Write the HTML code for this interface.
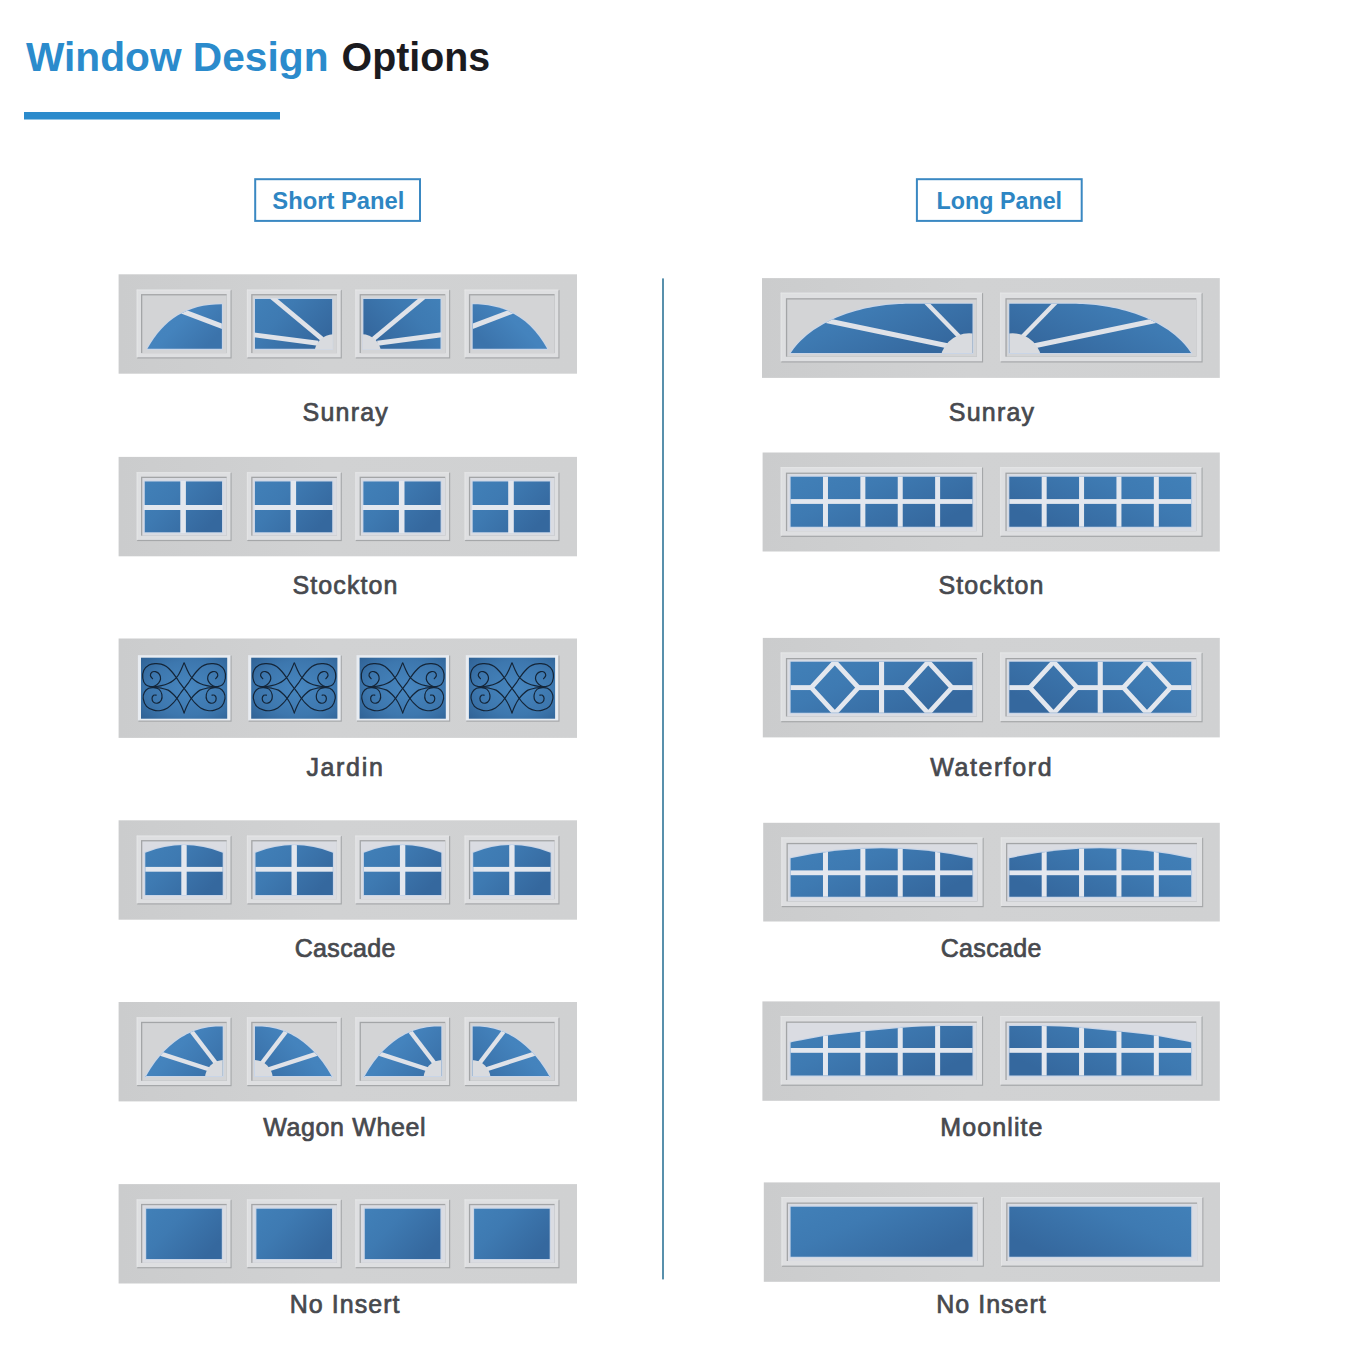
<!DOCTYPE html>
<html><head><meta charset="utf-8"><title>Window Design Options</title>
<style>
html,body{margin:0;padding:0;background:#fff;}
body{width:1361px;height:1360px;position:relative;overflow:hidden;}
svg{position:absolute;left:0;top:0;font-family:"Liberation Sans",sans-serif;}
</style></head>
<body>
<svg width="1361" height="1360" viewBox="0 0 1361 1360">
<defs>
<clipPath id="c1"><path d="M147.4,348.8 C163.7,319.6 186.7,304.3 221.9,304.3 L221.9,348.8 Z"/></clipPath>
<clipPath id="c2"><rect x="254.2" y="298.2" width="78.7" height="51.4"/></clipPath>
<clipPath id="c3"><rect x="254.2" y="298.2" width="78.7" height="51.4"/></clipPath>
<clipPath id="c4"><path d="M147.4,348.8 C163.7,319.6 186.7,304.3 221.9,304.3 L221.9,348.8 Z"/></clipPath>
<clipPath id="c5"><path d="M145.3,895 L145.3,852.7 Q184,837.5 222.7,852.7 L222.7,895 Z"/></clipPath>
<clipPath id="c6"><path d="M255.5,895 L255.5,852.7 Q294.2,837.5 332.9,852.7 L332.9,895 Z"/></clipPath>
<clipPath id="c7"><path d="M363.9,895 L363.9,852.7 Q402.6,837.5 441.3,852.7 L441.3,895 Z"/></clipPath>
<clipPath id="c8"><path d="M473.2,895 L473.2,852.7 Q511.9,837.5 550.6,852.7 L550.6,895 Z"/></clipPath>
<clipPath id="c9"><path d="M145.7,1075.9 L145.7,1077.09 L148.11,1072.81 L150.53,1068.87 L152.94,1065.24 L155.35,1061.87 L157.77,1058.74 L160.18,1055.83 L162.59,1053.12 L165.01,1050.59 L167.42,1048.23 L169.83,1046.02 L172.25,1043.97 L174.66,1042.05 L177.07,1040.27 L179.49,1038.61 L181.9,1037.08 L184.31,1035.66 L186.73,1034.36 L189.14,1033.16 L191.55,1032.08 L193.97,1031.09 L196.38,1030.2 L198.79,1029.42 L201.21,1028.73 L203.62,1028.13 L206.03,1027.63 L208.45,1027.22 L210.86,1026.91 L213.27,1026.68 L215.69,1026.55 L218.1,1026.5 L222.7,1026.5 L222.7,1075.9 Z"/></clipPath>
<clipPath id="c10"><path d="M145.7,1075.9 L145.7,1077.09 L148.11,1072.81 L150.53,1068.87 L152.94,1065.24 L155.35,1061.87 L157.77,1058.74 L160.18,1055.83 L162.59,1053.12 L165.01,1050.59 L167.42,1048.23 L169.83,1046.02 L172.25,1043.97 L174.66,1042.05 L177.07,1040.27 L179.49,1038.61 L181.9,1037.08 L184.31,1035.66 L186.73,1034.36 L189.14,1033.16 L191.55,1032.08 L193.97,1031.09 L196.38,1030.2 L198.79,1029.42 L201.21,1028.73 L203.62,1028.13 L206.03,1027.63 L208.45,1027.22 L210.86,1026.91 L213.27,1026.68 L215.69,1026.55 L218.1,1026.5 L222.7,1026.5 L222.7,1075.9 Z"/></clipPath>
<clipPath id="c11"><path d="M145.7,1075.9 L145.7,1077.09 L148.11,1072.81 L150.53,1068.87 L152.94,1065.24 L155.35,1061.87 L157.77,1058.74 L160.18,1055.83 L162.59,1053.12 L165.01,1050.59 L167.42,1048.23 L169.83,1046.02 L172.25,1043.97 L174.66,1042.05 L177.07,1040.27 L179.49,1038.61 L181.9,1037.08 L184.31,1035.66 L186.73,1034.36 L189.14,1033.16 L191.55,1032.08 L193.97,1031.09 L196.38,1030.2 L198.79,1029.42 L201.21,1028.73 L203.62,1028.13 L206.03,1027.63 L208.45,1027.22 L210.86,1026.91 L213.27,1026.68 L215.69,1026.55 L218.1,1026.5 L222.7,1026.5 L222.7,1075.9 Z"/></clipPath>
<clipPath id="c12"><path d="M145.7,1075.9 L145.7,1077.09 L148.11,1072.81 L150.53,1068.87 L152.94,1065.24 L155.35,1061.87 L157.77,1058.74 L160.18,1055.83 L162.59,1053.12 L165.01,1050.59 L167.42,1048.23 L169.83,1046.02 L172.25,1043.97 L174.66,1042.05 L177.07,1040.27 L179.49,1038.61 L181.9,1037.08 L184.31,1035.66 L186.73,1034.36 L189.14,1033.16 L191.55,1032.08 L193.97,1031.09 L196.38,1030.2 L198.79,1029.42 L201.21,1028.73 L203.62,1028.13 L206.03,1027.63 L208.45,1027.22 L210.86,1026.91 L213.27,1026.68 L215.69,1026.55 L218.1,1026.5 L222.7,1026.5 L222.7,1075.9 Z"/></clipPath>
<clipPath id="c13"><path d="M790.6,353 L790.6,353.29 L793.89,348.56 L797.18,344.55 L800.47,341.04 L803.76,337.91 L807.04,335.08 L810.33,332.49 L813.62,330.11 L816.91,327.92 L820.2,325.88 L823.49,323.99 L826.78,322.22 L830.07,320.57 L833.36,319.03 L836.64,317.6 L839.93,316.25 L843.22,315 L846.51,313.82 L849.8,312.73 L853.09,311.71 L856.38,310.76 L859.67,309.88 L862.96,309.07 L866.24,308.32 L869.53,307.63 L872.82,307.01 L876.11,306.44 L879.4,305.93 L882.69,305.48 L885.98,305.08 L889.27,304.74 L892.56,304.45 L895.84,304.22 L899.13,304.03 L902.42,303.9 L905.71,303.83 L909,303.8 L972.5,303.8 L972.5,353 Z"/></clipPath>
<clipPath id="c14"><path d="M790.6,353 L790.6,353.29 L793.89,348.56 L797.18,344.55 L800.47,341.04 L803.76,337.91 L807.04,335.08 L810.33,332.49 L813.62,330.11 L816.91,327.92 L820.2,325.88 L823.49,323.99 L826.78,322.22 L830.07,320.57 L833.36,319.03 L836.64,317.6 L839.93,316.25 L843.22,315 L846.51,313.82 L849.8,312.73 L853.09,311.71 L856.38,310.76 L859.67,309.88 L862.96,309.07 L866.24,308.32 L869.53,307.63 L872.82,307.01 L876.11,306.44 L879.4,305.93 L882.69,305.48 L885.98,305.08 L889.27,304.74 L892.56,304.45 L895.84,304.22 L899.13,304.03 L902.42,303.9 L905.71,303.83 L909,303.8 L972.5,303.8 L972.5,353 Z"/></clipPath>
<clipPath id="c15"><path d="M790.6,476.7 L972.5,476.7 L972.5,526.7 L790.6,526.7 Z"/></clipPath>
<clipPath id="c16"><path d="M790.6,476.7 L972.5,476.7 L972.5,526.7 L790.6,526.7 Z"/></clipPath>
<clipPath id="c17"><path d="M790.6,661.8 L972.5,661.8 L972.5,712.8 L790.6,712.8 Z"/></clipPath>
<clipPath id="c18"><path d="M790.6,661.8 L972.5,661.8 L972.5,712.8 L790.6,712.8 Z"/></clipPath>
<clipPath id="c19"><path d="M790.6,896.7 L790.6,858.2 Q881.55,838.2 972.5,858.2 L972.5,896.7 Z"/></clipPath>
<clipPath id="c20"><path d="M790.6,896.7 L790.6,858.2 Q881.55,838.2 972.5,858.2 L972.5,896.7 Z"/></clipPath>
<clipPath id="c21"><path d="M790.6,1075.6 L790.6,1042.4 C796.77,1041.27 815.18,1037.45 827.6,1035.6 C840.02,1033.75 852.6,1032.62 865.1,1031.3 C877.6,1029.98 890.18,1028.58 902.6,1027.7 C915.02,1026.82 927.95,1026.28 939.6,1026 C951.25,1025.72 967.02,1026 972.5,1026 L972.5,1075.6 Z"/></clipPath>
<clipPath id="c22"><path d="M790.6,1075.6 L790.6,1042.4 C796.77,1041.27 815.18,1037.45 827.6,1035.6 C840.02,1033.75 852.6,1032.62 865.1,1031.3 C877.6,1029.98 890.18,1028.58 902.6,1027.7 C915.02,1026.82 927.95,1026.28 939.6,1026 C951.25,1025.72 967.02,1026 972.5,1026 L972.5,1075.6 Z"/></clipPath>
<clipPath id="c23"><path d="M790.6,1206.7 L972.5,1206.7 L972.5,1256.7 L790.6,1256.7 Z"/></clipPath>
<clipPath id="c24"><path d="M790.6,1206.7 L972.5,1206.7 L972.5,1256.7 L790.6,1256.7 Z"/></clipPath>
<linearGradient id="pg" x1="0" y1="0" x2="1" y2="0">
 <stop offset="0" stop-color="#cbcccd"/><stop offset="0.45" stop-color="#d1d2d3"/><stop offset="1" stop-color="#d0d1d2"/>
</linearGradient>
<linearGradient id="gl" x1="0" y1="0" x2="1" y2="0.6">
 <stop offset="0" stop-color="#4180b8"/><stop offset="0.4" stop-color="#3e7ab2"/><stop offset="1" stop-color="#35689e"/>
</linearGradient>
<linearGradient id="gl2" x1="0" y1="0" x2="1" y2="0.6">
 <stop offset="0" stop-color="#4686c0"/><stop offset="0.5" stop-color="#4483bd"/><stop offset="1" stop-color="#3b73ab"/>
</linearGradient>
<radialGradient id="glj" cx="0.55" cy="0.5" r="0.75">
 <stop offset="0" stop-color="#4786bf"/><stop offset="0.6" stop-color="#3d77ae"/><stop offset="1" stop-color="#2f6194"/>
</radialGradient>
</defs>
<rect x="118.6" y="274.3" width="458.4" height="99.4" fill="url(#pg)"/>
<rect x="137.2" y="290.1" width="94.4" height="68.4" fill="#a5a7a9"/>
<rect x="136.7" y="289.6" width="93.8" height="67.7" fill="#dedfe1"/>
<rect x="136.7" y="289.6" width="93.8" height="1" fill="#e4e5e6"/>
<rect x="136.7" y="289.6" width="1" height="67.7" fill="#e4e5e6"/>
<rect x="141" y="294.1" width="85.7" height="59" fill="#a3a5a7"/>
<rect x="142.3" y="295.4" width="84.4" height="57.7" fill="#d3d4d6"/>
<g transform="translate(0,0)">
<path d="M147.4,348.8 C163.7,319.6 186.7,304.3 221.9,304.3 L221.9,348.8 Z" fill="#c9d5e7" stroke="#c9d5e7" stroke-width="2.2" stroke-linejoin="round"/>
<path d="M147.4,348.8 C163.7,319.6 186.7,304.3 221.9,304.3 L221.9,348.8 Z" fill="url(#gl2)"/>
<g clip-path="url(#c1)">
<line x1="181.3" y1="310.8" x2="223.4" y2="326.8" stroke="#dfe2e8" stroke-width="5.0"/>
</g>
</g>
<rect x="247.4" y="290.1" width="94.4" height="68.4" fill="#a5a7a9"/>
<rect x="246.9" y="289.6" width="93.8" height="67.7" fill="#dedfe1"/>
<rect x="246.9" y="289.6" width="93.8" height="1" fill="#e4e5e6"/>
<rect x="246.9" y="289.6" width="1" height="67.7" fill="#e4e5e6"/>
<rect x="251.2" y="294.1" width="85.7" height="59" fill="#a3a5a7"/>
<rect x="252.5" y="295.4" width="84.4" height="57.7" fill="#d3d4d6"/>
<g transform="translate(0,0)">
<path d="M255,299 L332.1,299 L332.1,348.8 L255,348.8 Z" fill="#c9d5e7" stroke="#c9d5e7" stroke-width="2.2" stroke-linejoin="round"/>
<path d="M255,299 L332.1,299 L332.1,348.8 L255,348.8 Z" fill="url(#gl)"/>
<g clip-path="url(#c2)">
<line x1="271.6" y1="297" x2="322.1" y2="339" stroke="#dfe2e8" stroke-width="4.8"/>
<line x1="253.5" y1="334.8" x2="318.1" y2="343.3" stroke="#dfe2e8" stroke-width="4.9"/>
<circle cx="333.5" cy="353.2" r="19" fill="#d9dbdf"/>
</g>
</g>
<rect x="355.8" y="290.1" width="94.4" height="68.4" fill="#a5a7a9"/>
<rect x="355.3" y="289.6" width="93.8" height="67.7" fill="#dedfe1"/>
<rect x="355.3" y="289.6" width="93.8" height="1" fill="#e4e5e6"/>
<rect x="355.3" y="289.6" width="1" height="67.7" fill="#e4e5e6"/>
<rect x="359.6" y="294.1" width="85.7" height="59" fill="#a3a5a7"/>
<rect x="360.9" y="295.4" width="84.4" height="57.7" fill="#d3d4d6"/>
<g transform="matrix(-1,0,0,1,695.5,0)">
<path d="M255,299 L332.1,299 L332.1,348.8 L255,348.8 Z" fill="#c9d5e7" stroke="#c9d5e7" stroke-width="2.2" stroke-linejoin="round"/>
<path d="M255,299 L332.1,299 L332.1,348.8 L255,348.8 Z" fill="url(#gl)"/>
<g clip-path="url(#c3)">
<line x1="271.6" y1="297" x2="322.1" y2="339" stroke="#dfe2e8" stroke-width="4.8"/>
<line x1="253.5" y1="334.8" x2="318.1" y2="343.3" stroke="#dfe2e8" stroke-width="4.9"/>
<circle cx="333.5" cy="353.2" r="19" fill="#d9dbdf"/>
</g>
</g>
<rect x="465.1" y="290.1" width="94.4" height="68.4" fill="#a5a7a9"/>
<rect x="464.6" y="289.6" width="93.8" height="67.7" fill="#dedfe1"/>
<rect x="464.6" y="289.6" width="93.8" height="1" fill="#e4e5e6"/>
<rect x="464.6" y="289.6" width="1" height="67.7" fill="#e4e5e6"/>
<rect x="468.9" y="294.1" width="85.7" height="59" fill="#a3a5a7"/>
<rect x="470.2" y="295.4" width="84.4" height="57.7" fill="#d3d4d6"/>
<g transform="matrix(-1,0,0,1,694.6,0)">
<path d="M147.4,348.8 C163.7,319.6 186.7,304.3 221.9,304.3 L221.9,348.8 Z" fill="#c9d5e7" stroke="#c9d5e7" stroke-width="2.2" stroke-linejoin="round"/>
<path d="M147.4,348.8 C163.7,319.6 186.7,304.3 221.9,304.3 L221.9,348.8 Z" fill="url(#gl2)"/>
<g clip-path="url(#c4)">
<line x1="181.3" y1="310.8" x2="223.4" y2="326.8" stroke="#dfe2e8" stroke-width="5.0"/>
</g>
</g>
<rect x="118.6" y="456.9" width="458.4" height="99.4" fill="url(#pg)"/>
<rect x="137.2" y="472.7" width="94.4" height="68.4" fill="#a5a7a9"/>
<rect x="136.7" y="472.2" width="93.8" height="67.7" fill="#dedfe1"/>
<rect x="136.7" y="472.2" width="93.8" height="1" fill="#e4e5e6"/>
<rect x="136.7" y="472.2" width="1" height="67.7" fill="#e4e5e6"/>
<rect x="141" y="476.7" width="85.7" height="59" fill="#a3a5a7"/>
<rect x="142.3" y="478" width="84.4" height="57.7" fill="#dadce2"/>
<path d="M144.8,481.6 L222,481.6 L222,532.2 L144.8,532.2 Z" fill="#c9d5e7" stroke="#c9d5e7" stroke-width="2.2" stroke-linejoin="round"/>
<path d="M144.8,481.6 L222,481.6 L222,532.2 L144.8,532.2 Z" fill="url(#gl)"/>
<rect x="180.3" y="480.8" width="5.6" height="52.2" fill="#e3e7ee"/>
<rect x="144" y="505" width="78.8" height="5" fill="#e3e7ee"/>
<rect x="247.4" y="472.7" width="94.4" height="68.4" fill="#a5a7a9"/>
<rect x="246.9" y="472.2" width="93.8" height="67.7" fill="#dedfe1"/>
<rect x="246.9" y="472.2" width="93.8" height="1" fill="#e4e5e6"/>
<rect x="246.9" y="472.2" width="1" height="67.7" fill="#e4e5e6"/>
<rect x="251.2" y="476.7" width="85.7" height="59" fill="#a3a5a7"/>
<rect x="252.5" y="478" width="84.4" height="57.7" fill="#dadce2"/>
<path d="M255,481.6 L332.2,481.6 L332.2,532.2 L255,532.2 Z" fill="#c9d5e7" stroke="#c9d5e7" stroke-width="2.2" stroke-linejoin="round"/>
<path d="M255,481.6 L332.2,481.6 L332.2,532.2 L255,532.2 Z" fill="url(#gl)"/>
<rect x="290.5" y="480.8" width="5.6" height="52.2" fill="#e3e7ee"/>
<rect x="254.2" y="505" width="78.8" height="5" fill="#e3e7ee"/>
<rect x="355.8" y="472.7" width="94.4" height="68.4" fill="#a5a7a9"/>
<rect x="355.3" y="472.2" width="93.8" height="67.7" fill="#dedfe1"/>
<rect x="355.3" y="472.2" width="93.8" height="1" fill="#e4e5e6"/>
<rect x="355.3" y="472.2" width="1" height="67.7" fill="#e4e5e6"/>
<rect x="359.6" y="476.7" width="85.7" height="59" fill="#a3a5a7"/>
<rect x="360.9" y="478" width="84.4" height="57.7" fill="#dadce2"/>
<path d="M363.4,481.6 L440.6,481.6 L440.6,532.2 L363.4,532.2 Z" fill="#c9d5e7" stroke="#c9d5e7" stroke-width="2.2" stroke-linejoin="round"/>
<path d="M363.4,481.6 L440.6,481.6 L440.6,532.2 L363.4,532.2 Z" fill="url(#gl)"/>
<rect x="398.9" y="480.8" width="5.6" height="52.2" fill="#e3e7ee"/>
<rect x="362.6" y="505" width="78.8" height="5" fill="#e3e7ee"/>
<rect x="465.1" y="472.7" width="94.4" height="68.4" fill="#a5a7a9"/>
<rect x="464.6" y="472.2" width="93.8" height="67.7" fill="#dedfe1"/>
<rect x="464.6" y="472.2" width="93.8" height="1" fill="#e4e5e6"/>
<rect x="464.6" y="472.2" width="1" height="67.7" fill="#e4e5e6"/>
<rect x="468.9" y="476.7" width="85.7" height="59" fill="#a3a5a7"/>
<rect x="470.2" y="478" width="84.4" height="57.7" fill="#dadce2"/>
<path d="M472.7,481.6 L549.9,481.6 L549.9,532.2 L472.7,532.2 Z" fill="#c9d5e7" stroke="#c9d5e7" stroke-width="2.2" stroke-linejoin="round"/>
<path d="M472.7,481.6 L549.9,481.6 L549.9,532.2 L472.7,532.2 Z" fill="url(#gl)"/>
<rect x="508.2" y="480.8" width="5.6" height="52.2" fill="#e3e7ee"/>
<rect x="471.9" y="505" width="78.8" height="5" fill="#e3e7ee"/>
<rect x="118.6" y="638.5" width="458.4" height="99.4" fill="url(#pg)"/>
<rect x="138.4" y="655.6" width="93.2" height="66.1" fill="#a5a7a9"/>
<rect x="137.9" y="655.1" width="92.6" height="65.4" fill="#e8ecf1"/>
<rect x="141" y="657.7" width="86.2" height="61" fill="url(#glj)"/>
<g transform="translate(141,657.7) scale(1.0023,1.0000)" fill="none" stroke="#142538" stroke-width="1.2" stroke-linecap="round">
<path d="M11.5,21 C11.15,20.48 9.52,18.98 9.4,17.9 C9.28,16.82 9.97,15.15 10.8,14.5 C11.63,13.85 13.13,13.65 14.4,14 C15.67,14.35 17.55,15.4 18.4,16.6 C19.25,17.8 19.62,19.77 19.5,21.2 C19.38,22.63 18.58,24.07 17.7,25.2 C16.82,26.33 15.57,27.38 14.2,28 C12.83,28.62 11.1,29.07 9.5,28.9 C7.9,28.73 5.88,28.4 4.6,27 C3.32,25.6 2.1,22.92 1.8,20.5 C1.5,18.08 1.77,14.68 2.8,12.5 C3.83,10.32 6.13,8.5 8,7.4 C9.87,6.3 12,6.07 14,5.9 C16,5.73 18.1,5.9 20,6.4 C21.9,6.9 23.63,7.67 25.4,8.9 C27.17,10.13 29,12.03 30.6,13.8 C32.2,15.57 33.62,17.57 35,19.5 C36.38,21.43 37.57,23.52 38.9,25.4 C40.23,27.28 41.68,29.07 43,30.8 C44.32,32.53 45.6,34.17 46.8,35.8 C48,37.43 49.03,39.03 50.2,40.6 C51.37,42.17 52.25,43.6 53.8,45.2 C55.35,46.8 57.42,48.93 59.5,50.2 C61.58,51.47 64,52.42 66.3,52.8 C68.6,53.18 70.93,53.2 73.3,52.5 C75.67,51.8 78.75,50.52 80.5,48.6 C82.25,46.68 83.45,43.33 83.8,41 C84.15,38.67 83.5,36.33 82.6,34.6 C81.7,32.87 79.92,31.38 78.4,30.6 C76.88,29.82 75.2,29.77 73.5,29.9 C71.8,30.03 69.58,30.28 68.2,31.4 C66.82,32.52 65.6,34.73 65.2,36.6 C64.8,38.47 65.1,41.13 65.8,42.6 C66.5,44.07 68.1,45.1 69.4,45.4 C70.7,45.7 72.67,45.2 73.6,44.4 C74.53,43.6 75.03,41.73 75,40.6 C74.97,39.47 74.1,38.13 73.4,37.6 C72.7,37.07 71.23,37.43 70.8,37.4 M42.8,5.4 C42.37,6.42 41.23,9.35 40.2,11.5 C39.17,13.65 37.93,16.42 36.6,18.3 C35.27,20.18 33.78,21.55 32.2,22.8 C30.62,24.05 29.08,24.93 27.1,25.8 C25.12,26.67 22.73,27.42 20.3,28 C17.87,28.58 13.8,29.08 12.5,29.3 M43,55.2 C42.55,54.08 41.37,50.73 40.3,48.5 C39.23,46.27 37.95,43.78 36.6,41.8 C35.25,39.82 33.78,38.17 32.2,36.6 C30.62,35.03 29.08,33.42 27.1,32.4 C25.12,31.38 22.73,30.95 20.3,30.5 C17.87,30.05 13.8,29.83 12.5,29.7"/>
<path d="M11.5,21 C11.15,20.48 9.52,18.98 9.4,17.9 C9.28,16.82 9.97,15.15 10.8,14.5 C11.63,13.85 13.13,13.65 14.4,14 C15.67,14.35 17.55,15.4 18.4,16.6 C19.25,17.8 19.62,19.77 19.5,21.2 C19.38,22.63 18.58,24.07 17.7,25.2 C16.82,26.33 15.57,27.38 14.2,28 C12.83,28.62 11.1,29.07 9.5,28.9 C7.9,28.73 5.88,28.4 4.6,27 C3.32,25.6 2.1,22.92 1.8,20.5 C1.5,18.08 1.77,14.68 2.8,12.5 C3.83,10.32 6.13,8.5 8,7.4 C9.87,6.3 12,6.07 14,5.9 C16,5.73 18.1,5.9 20,6.4 C21.9,6.9 23.63,7.67 25.4,8.9 C27.17,10.13 29,12.03 30.6,13.8 C32.2,15.57 33.62,17.57 35,19.5 C36.38,21.43 37.57,23.52 38.9,25.4 C40.23,27.28 41.68,29.07 43,30.8 C44.32,32.53 45.6,34.17 46.8,35.8 C48,37.43 49.03,39.03 50.2,40.6 C51.37,42.17 52.25,43.6 53.8,45.2 C55.35,46.8 57.42,48.93 59.5,50.2 C61.58,51.47 64,52.42 66.3,52.8 C68.6,53.18 70.93,53.2 73.3,52.5 C75.67,51.8 78.75,50.52 80.5,48.6 C82.25,46.68 83.45,43.33 83.8,41 C84.15,38.67 83.5,36.33 82.6,34.6 C81.7,32.87 79.92,31.38 78.4,30.6 C76.88,29.82 75.2,29.77 73.5,29.9 C71.8,30.03 69.58,30.28 68.2,31.4 C66.82,32.52 65.6,34.73 65.2,36.6 C64.8,38.47 65.1,41.13 65.8,42.6 C66.5,44.07 68.1,45.1 69.4,45.4 C70.7,45.7 72.67,45.2 73.6,44.4 C74.53,43.6 75.03,41.73 75,40.6 C74.97,39.47 74.1,38.13 73.4,37.6 C72.7,37.07 71.23,37.43 70.8,37.4 M42.8,5.4 C42.37,6.42 41.23,9.35 40.2,11.5 C39.17,13.65 37.93,16.42 36.6,18.3 C35.27,20.18 33.78,21.55 32.2,22.8 C30.62,24.05 29.08,24.93 27.1,25.8 C25.12,26.67 22.73,27.42 20.3,28 C17.87,28.58 13.8,29.08 12.5,29.3 M43,55.2 C42.55,54.08 41.37,50.73 40.3,48.5 C39.23,46.27 37.95,43.78 36.6,41.8 C35.25,39.82 33.78,38.17 32.2,36.6 C30.62,35.03 29.08,33.42 27.1,32.4 C25.12,31.38 22.73,30.95 20.3,30.5 C17.87,30.05 13.8,29.83 12.5,29.7" transform="matrix(-1,0,0,1,86,0)"/>
</g>
<rect x="248.6" y="655.6" width="93.2" height="66.1" fill="#a5a7a9"/>
<rect x="248.1" y="655.1" width="92.6" height="65.4" fill="#e8ecf1"/>
<rect x="251.2" y="657.7" width="86.2" height="61" fill="url(#glj)"/>
<g transform="translate(251.2,657.7) scale(1.0023,1.0000)" fill="none" stroke="#142538" stroke-width="1.2" stroke-linecap="round">
<path d="M11.5,21 C11.15,20.48 9.52,18.98 9.4,17.9 C9.28,16.82 9.97,15.15 10.8,14.5 C11.63,13.85 13.13,13.65 14.4,14 C15.67,14.35 17.55,15.4 18.4,16.6 C19.25,17.8 19.62,19.77 19.5,21.2 C19.38,22.63 18.58,24.07 17.7,25.2 C16.82,26.33 15.57,27.38 14.2,28 C12.83,28.62 11.1,29.07 9.5,28.9 C7.9,28.73 5.88,28.4 4.6,27 C3.32,25.6 2.1,22.92 1.8,20.5 C1.5,18.08 1.77,14.68 2.8,12.5 C3.83,10.32 6.13,8.5 8,7.4 C9.87,6.3 12,6.07 14,5.9 C16,5.73 18.1,5.9 20,6.4 C21.9,6.9 23.63,7.67 25.4,8.9 C27.17,10.13 29,12.03 30.6,13.8 C32.2,15.57 33.62,17.57 35,19.5 C36.38,21.43 37.57,23.52 38.9,25.4 C40.23,27.28 41.68,29.07 43,30.8 C44.32,32.53 45.6,34.17 46.8,35.8 C48,37.43 49.03,39.03 50.2,40.6 C51.37,42.17 52.25,43.6 53.8,45.2 C55.35,46.8 57.42,48.93 59.5,50.2 C61.58,51.47 64,52.42 66.3,52.8 C68.6,53.18 70.93,53.2 73.3,52.5 C75.67,51.8 78.75,50.52 80.5,48.6 C82.25,46.68 83.45,43.33 83.8,41 C84.15,38.67 83.5,36.33 82.6,34.6 C81.7,32.87 79.92,31.38 78.4,30.6 C76.88,29.82 75.2,29.77 73.5,29.9 C71.8,30.03 69.58,30.28 68.2,31.4 C66.82,32.52 65.6,34.73 65.2,36.6 C64.8,38.47 65.1,41.13 65.8,42.6 C66.5,44.07 68.1,45.1 69.4,45.4 C70.7,45.7 72.67,45.2 73.6,44.4 C74.53,43.6 75.03,41.73 75,40.6 C74.97,39.47 74.1,38.13 73.4,37.6 C72.7,37.07 71.23,37.43 70.8,37.4 M42.8,5.4 C42.37,6.42 41.23,9.35 40.2,11.5 C39.17,13.65 37.93,16.42 36.6,18.3 C35.27,20.18 33.78,21.55 32.2,22.8 C30.62,24.05 29.08,24.93 27.1,25.8 C25.12,26.67 22.73,27.42 20.3,28 C17.87,28.58 13.8,29.08 12.5,29.3 M43,55.2 C42.55,54.08 41.37,50.73 40.3,48.5 C39.23,46.27 37.95,43.78 36.6,41.8 C35.25,39.82 33.78,38.17 32.2,36.6 C30.62,35.03 29.08,33.42 27.1,32.4 C25.12,31.38 22.73,30.95 20.3,30.5 C17.87,30.05 13.8,29.83 12.5,29.7"/>
<path d="M11.5,21 C11.15,20.48 9.52,18.98 9.4,17.9 C9.28,16.82 9.97,15.15 10.8,14.5 C11.63,13.85 13.13,13.65 14.4,14 C15.67,14.35 17.55,15.4 18.4,16.6 C19.25,17.8 19.62,19.77 19.5,21.2 C19.38,22.63 18.58,24.07 17.7,25.2 C16.82,26.33 15.57,27.38 14.2,28 C12.83,28.62 11.1,29.07 9.5,28.9 C7.9,28.73 5.88,28.4 4.6,27 C3.32,25.6 2.1,22.92 1.8,20.5 C1.5,18.08 1.77,14.68 2.8,12.5 C3.83,10.32 6.13,8.5 8,7.4 C9.87,6.3 12,6.07 14,5.9 C16,5.73 18.1,5.9 20,6.4 C21.9,6.9 23.63,7.67 25.4,8.9 C27.17,10.13 29,12.03 30.6,13.8 C32.2,15.57 33.62,17.57 35,19.5 C36.38,21.43 37.57,23.52 38.9,25.4 C40.23,27.28 41.68,29.07 43,30.8 C44.32,32.53 45.6,34.17 46.8,35.8 C48,37.43 49.03,39.03 50.2,40.6 C51.37,42.17 52.25,43.6 53.8,45.2 C55.35,46.8 57.42,48.93 59.5,50.2 C61.58,51.47 64,52.42 66.3,52.8 C68.6,53.18 70.93,53.2 73.3,52.5 C75.67,51.8 78.75,50.52 80.5,48.6 C82.25,46.68 83.45,43.33 83.8,41 C84.15,38.67 83.5,36.33 82.6,34.6 C81.7,32.87 79.92,31.38 78.4,30.6 C76.88,29.82 75.2,29.77 73.5,29.9 C71.8,30.03 69.58,30.28 68.2,31.4 C66.82,32.52 65.6,34.73 65.2,36.6 C64.8,38.47 65.1,41.13 65.8,42.6 C66.5,44.07 68.1,45.1 69.4,45.4 C70.7,45.7 72.67,45.2 73.6,44.4 C74.53,43.6 75.03,41.73 75,40.6 C74.97,39.47 74.1,38.13 73.4,37.6 C72.7,37.07 71.23,37.43 70.8,37.4 M42.8,5.4 C42.37,6.42 41.23,9.35 40.2,11.5 C39.17,13.65 37.93,16.42 36.6,18.3 C35.27,20.18 33.78,21.55 32.2,22.8 C30.62,24.05 29.08,24.93 27.1,25.8 C25.12,26.67 22.73,27.42 20.3,28 C17.87,28.58 13.8,29.08 12.5,29.3 M43,55.2 C42.55,54.08 41.37,50.73 40.3,48.5 C39.23,46.27 37.95,43.78 36.6,41.8 C35.25,39.82 33.78,38.17 32.2,36.6 C30.62,35.03 29.08,33.42 27.1,32.4 C25.12,31.38 22.73,30.95 20.3,30.5 C17.87,30.05 13.8,29.83 12.5,29.7" transform="matrix(-1,0,0,1,86,0)"/>
</g>
<rect x="357" y="655.6" width="93.2" height="66.1" fill="#a5a7a9"/>
<rect x="356.5" y="655.1" width="92.6" height="65.4" fill="#e8ecf1"/>
<rect x="359.6" y="657.7" width="86.2" height="61" fill="url(#glj)"/>
<g transform="translate(359.6,657.7) scale(1.0023,1.0000)" fill="none" stroke="#142538" stroke-width="1.2" stroke-linecap="round">
<path d="M11.5,21 C11.15,20.48 9.52,18.98 9.4,17.9 C9.28,16.82 9.97,15.15 10.8,14.5 C11.63,13.85 13.13,13.65 14.4,14 C15.67,14.35 17.55,15.4 18.4,16.6 C19.25,17.8 19.62,19.77 19.5,21.2 C19.38,22.63 18.58,24.07 17.7,25.2 C16.82,26.33 15.57,27.38 14.2,28 C12.83,28.62 11.1,29.07 9.5,28.9 C7.9,28.73 5.88,28.4 4.6,27 C3.32,25.6 2.1,22.92 1.8,20.5 C1.5,18.08 1.77,14.68 2.8,12.5 C3.83,10.32 6.13,8.5 8,7.4 C9.87,6.3 12,6.07 14,5.9 C16,5.73 18.1,5.9 20,6.4 C21.9,6.9 23.63,7.67 25.4,8.9 C27.17,10.13 29,12.03 30.6,13.8 C32.2,15.57 33.62,17.57 35,19.5 C36.38,21.43 37.57,23.52 38.9,25.4 C40.23,27.28 41.68,29.07 43,30.8 C44.32,32.53 45.6,34.17 46.8,35.8 C48,37.43 49.03,39.03 50.2,40.6 C51.37,42.17 52.25,43.6 53.8,45.2 C55.35,46.8 57.42,48.93 59.5,50.2 C61.58,51.47 64,52.42 66.3,52.8 C68.6,53.18 70.93,53.2 73.3,52.5 C75.67,51.8 78.75,50.52 80.5,48.6 C82.25,46.68 83.45,43.33 83.8,41 C84.15,38.67 83.5,36.33 82.6,34.6 C81.7,32.87 79.92,31.38 78.4,30.6 C76.88,29.82 75.2,29.77 73.5,29.9 C71.8,30.03 69.58,30.28 68.2,31.4 C66.82,32.52 65.6,34.73 65.2,36.6 C64.8,38.47 65.1,41.13 65.8,42.6 C66.5,44.07 68.1,45.1 69.4,45.4 C70.7,45.7 72.67,45.2 73.6,44.4 C74.53,43.6 75.03,41.73 75,40.6 C74.97,39.47 74.1,38.13 73.4,37.6 C72.7,37.07 71.23,37.43 70.8,37.4 M42.8,5.4 C42.37,6.42 41.23,9.35 40.2,11.5 C39.17,13.65 37.93,16.42 36.6,18.3 C35.27,20.18 33.78,21.55 32.2,22.8 C30.62,24.05 29.08,24.93 27.1,25.8 C25.12,26.67 22.73,27.42 20.3,28 C17.87,28.58 13.8,29.08 12.5,29.3 M43,55.2 C42.55,54.08 41.37,50.73 40.3,48.5 C39.23,46.27 37.95,43.78 36.6,41.8 C35.25,39.82 33.78,38.17 32.2,36.6 C30.62,35.03 29.08,33.42 27.1,32.4 C25.12,31.38 22.73,30.95 20.3,30.5 C17.87,30.05 13.8,29.83 12.5,29.7"/>
<path d="M11.5,21 C11.15,20.48 9.52,18.98 9.4,17.9 C9.28,16.82 9.97,15.15 10.8,14.5 C11.63,13.85 13.13,13.65 14.4,14 C15.67,14.35 17.55,15.4 18.4,16.6 C19.25,17.8 19.62,19.77 19.5,21.2 C19.38,22.63 18.58,24.07 17.7,25.2 C16.82,26.33 15.57,27.38 14.2,28 C12.83,28.62 11.1,29.07 9.5,28.9 C7.9,28.73 5.88,28.4 4.6,27 C3.32,25.6 2.1,22.92 1.8,20.5 C1.5,18.08 1.77,14.68 2.8,12.5 C3.83,10.32 6.13,8.5 8,7.4 C9.87,6.3 12,6.07 14,5.9 C16,5.73 18.1,5.9 20,6.4 C21.9,6.9 23.63,7.67 25.4,8.9 C27.17,10.13 29,12.03 30.6,13.8 C32.2,15.57 33.62,17.57 35,19.5 C36.38,21.43 37.57,23.52 38.9,25.4 C40.23,27.28 41.68,29.07 43,30.8 C44.32,32.53 45.6,34.17 46.8,35.8 C48,37.43 49.03,39.03 50.2,40.6 C51.37,42.17 52.25,43.6 53.8,45.2 C55.35,46.8 57.42,48.93 59.5,50.2 C61.58,51.47 64,52.42 66.3,52.8 C68.6,53.18 70.93,53.2 73.3,52.5 C75.67,51.8 78.75,50.52 80.5,48.6 C82.25,46.68 83.45,43.33 83.8,41 C84.15,38.67 83.5,36.33 82.6,34.6 C81.7,32.87 79.92,31.38 78.4,30.6 C76.88,29.82 75.2,29.77 73.5,29.9 C71.8,30.03 69.58,30.28 68.2,31.4 C66.82,32.52 65.6,34.73 65.2,36.6 C64.8,38.47 65.1,41.13 65.8,42.6 C66.5,44.07 68.1,45.1 69.4,45.4 C70.7,45.7 72.67,45.2 73.6,44.4 C74.53,43.6 75.03,41.73 75,40.6 C74.97,39.47 74.1,38.13 73.4,37.6 C72.7,37.07 71.23,37.43 70.8,37.4 M42.8,5.4 C42.37,6.42 41.23,9.35 40.2,11.5 C39.17,13.65 37.93,16.42 36.6,18.3 C35.27,20.18 33.78,21.55 32.2,22.8 C30.62,24.05 29.08,24.93 27.1,25.8 C25.12,26.67 22.73,27.42 20.3,28 C17.87,28.58 13.8,29.08 12.5,29.3 M43,55.2 C42.55,54.08 41.37,50.73 40.3,48.5 C39.23,46.27 37.95,43.78 36.6,41.8 C35.25,39.82 33.78,38.17 32.2,36.6 C30.62,35.03 29.08,33.42 27.1,32.4 C25.12,31.38 22.73,30.95 20.3,30.5 C17.87,30.05 13.8,29.83 12.5,29.7" transform="matrix(-1,0,0,1,86,0)"/>
</g>
<rect x="466.3" y="655.6" width="93.2" height="66.1" fill="#a5a7a9"/>
<rect x="465.8" y="655.1" width="92.6" height="65.4" fill="#e8ecf1"/>
<rect x="468.9" y="657.7" width="86.2" height="61" fill="url(#glj)"/>
<g transform="translate(468.9,657.7) scale(1.0023,1.0000)" fill="none" stroke="#142538" stroke-width="1.2" stroke-linecap="round">
<path d="M11.5,21 C11.15,20.48 9.52,18.98 9.4,17.9 C9.28,16.82 9.97,15.15 10.8,14.5 C11.63,13.85 13.13,13.65 14.4,14 C15.67,14.35 17.55,15.4 18.4,16.6 C19.25,17.8 19.62,19.77 19.5,21.2 C19.38,22.63 18.58,24.07 17.7,25.2 C16.82,26.33 15.57,27.38 14.2,28 C12.83,28.62 11.1,29.07 9.5,28.9 C7.9,28.73 5.88,28.4 4.6,27 C3.32,25.6 2.1,22.92 1.8,20.5 C1.5,18.08 1.77,14.68 2.8,12.5 C3.83,10.32 6.13,8.5 8,7.4 C9.87,6.3 12,6.07 14,5.9 C16,5.73 18.1,5.9 20,6.4 C21.9,6.9 23.63,7.67 25.4,8.9 C27.17,10.13 29,12.03 30.6,13.8 C32.2,15.57 33.62,17.57 35,19.5 C36.38,21.43 37.57,23.52 38.9,25.4 C40.23,27.28 41.68,29.07 43,30.8 C44.32,32.53 45.6,34.17 46.8,35.8 C48,37.43 49.03,39.03 50.2,40.6 C51.37,42.17 52.25,43.6 53.8,45.2 C55.35,46.8 57.42,48.93 59.5,50.2 C61.58,51.47 64,52.42 66.3,52.8 C68.6,53.18 70.93,53.2 73.3,52.5 C75.67,51.8 78.75,50.52 80.5,48.6 C82.25,46.68 83.45,43.33 83.8,41 C84.15,38.67 83.5,36.33 82.6,34.6 C81.7,32.87 79.92,31.38 78.4,30.6 C76.88,29.82 75.2,29.77 73.5,29.9 C71.8,30.03 69.58,30.28 68.2,31.4 C66.82,32.52 65.6,34.73 65.2,36.6 C64.8,38.47 65.1,41.13 65.8,42.6 C66.5,44.07 68.1,45.1 69.4,45.4 C70.7,45.7 72.67,45.2 73.6,44.4 C74.53,43.6 75.03,41.73 75,40.6 C74.97,39.47 74.1,38.13 73.4,37.6 C72.7,37.07 71.23,37.43 70.8,37.4 M42.8,5.4 C42.37,6.42 41.23,9.35 40.2,11.5 C39.17,13.65 37.93,16.42 36.6,18.3 C35.27,20.18 33.78,21.55 32.2,22.8 C30.62,24.05 29.08,24.93 27.1,25.8 C25.12,26.67 22.73,27.42 20.3,28 C17.87,28.58 13.8,29.08 12.5,29.3 M43,55.2 C42.55,54.08 41.37,50.73 40.3,48.5 C39.23,46.27 37.95,43.78 36.6,41.8 C35.25,39.82 33.78,38.17 32.2,36.6 C30.62,35.03 29.08,33.42 27.1,32.4 C25.12,31.38 22.73,30.95 20.3,30.5 C17.87,30.05 13.8,29.83 12.5,29.7"/>
<path d="M11.5,21 C11.15,20.48 9.52,18.98 9.4,17.9 C9.28,16.82 9.97,15.15 10.8,14.5 C11.63,13.85 13.13,13.65 14.4,14 C15.67,14.35 17.55,15.4 18.4,16.6 C19.25,17.8 19.62,19.77 19.5,21.2 C19.38,22.63 18.58,24.07 17.7,25.2 C16.82,26.33 15.57,27.38 14.2,28 C12.83,28.62 11.1,29.07 9.5,28.9 C7.9,28.73 5.88,28.4 4.6,27 C3.32,25.6 2.1,22.92 1.8,20.5 C1.5,18.08 1.77,14.68 2.8,12.5 C3.83,10.32 6.13,8.5 8,7.4 C9.87,6.3 12,6.07 14,5.9 C16,5.73 18.1,5.9 20,6.4 C21.9,6.9 23.63,7.67 25.4,8.9 C27.17,10.13 29,12.03 30.6,13.8 C32.2,15.57 33.62,17.57 35,19.5 C36.38,21.43 37.57,23.52 38.9,25.4 C40.23,27.28 41.68,29.07 43,30.8 C44.32,32.53 45.6,34.17 46.8,35.8 C48,37.43 49.03,39.03 50.2,40.6 C51.37,42.17 52.25,43.6 53.8,45.2 C55.35,46.8 57.42,48.93 59.5,50.2 C61.58,51.47 64,52.42 66.3,52.8 C68.6,53.18 70.93,53.2 73.3,52.5 C75.67,51.8 78.75,50.52 80.5,48.6 C82.25,46.68 83.45,43.33 83.8,41 C84.15,38.67 83.5,36.33 82.6,34.6 C81.7,32.87 79.92,31.38 78.4,30.6 C76.88,29.82 75.2,29.77 73.5,29.9 C71.8,30.03 69.58,30.28 68.2,31.4 C66.82,32.52 65.6,34.73 65.2,36.6 C64.8,38.47 65.1,41.13 65.8,42.6 C66.5,44.07 68.1,45.1 69.4,45.4 C70.7,45.7 72.67,45.2 73.6,44.4 C74.53,43.6 75.03,41.73 75,40.6 C74.97,39.47 74.1,38.13 73.4,37.6 C72.7,37.07 71.23,37.43 70.8,37.4 M42.8,5.4 C42.37,6.42 41.23,9.35 40.2,11.5 C39.17,13.65 37.93,16.42 36.6,18.3 C35.27,20.18 33.78,21.55 32.2,22.8 C30.62,24.05 29.08,24.93 27.1,25.8 C25.12,26.67 22.73,27.42 20.3,28 C17.87,28.58 13.8,29.08 12.5,29.3 M43,55.2 C42.55,54.08 41.37,50.73 40.3,48.5 C39.23,46.27 37.95,43.78 36.6,41.8 C35.25,39.82 33.78,38.17 32.2,36.6 C30.62,35.03 29.08,33.42 27.1,32.4 C25.12,31.38 22.73,30.95 20.3,30.5 C17.87,30.05 13.8,29.83 12.5,29.7" transform="matrix(-1,0,0,1,86,0)"/>
</g>
<rect x="118.6" y="820.3" width="458.4" height="99.4" fill="url(#pg)"/>
<rect x="137.2" y="836.1" width="94.4" height="68.4" fill="#a5a7a9"/>
<rect x="136.7" y="835.6" width="93.8" height="67.7" fill="#dedfe1"/>
<rect x="136.7" y="835.6" width="93.8" height="1" fill="#e4e5e6"/>
<rect x="136.7" y="835.6" width="1" height="67.7" fill="#e4e5e6"/>
<rect x="141" y="840.1" width="85.7" height="59" fill="#a3a5a7"/>
<rect x="142.3" y="841.4" width="84.4" height="57.7" fill="#dadce2"/>
<path d="M145.3,895 L145.3,852.7 Q184,837.5 222.7,852.7 L222.7,895 Z" fill="#c9d5e7" stroke="#c9d5e7" stroke-width="2.2" stroke-linejoin="round"/>
<path d="M145.3,895 L145.3,852.7 Q184,837.5 222.7,852.7 L222.7,895 Z" fill="url(#gl)"/>
<g clip-path="url(#c5)">
<rect x="181.3" y="842.7" width="5.4" height="53.1" fill="#e3e7ee"/>
<rect x="144.5" y="866.9" width="79" height="4.8" fill="#e3e7ee"/>
</g>
<rect x="247.4" y="836.1" width="94.4" height="68.4" fill="#a5a7a9"/>
<rect x="246.9" y="835.6" width="93.8" height="67.7" fill="#dedfe1"/>
<rect x="246.9" y="835.6" width="93.8" height="1" fill="#e4e5e6"/>
<rect x="246.9" y="835.6" width="1" height="67.7" fill="#e4e5e6"/>
<rect x="251.2" y="840.1" width="85.7" height="59" fill="#a3a5a7"/>
<rect x="252.5" y="841.4" width="84.4" height="57.7" fill="#dadce2"/>
<path d="M255.5,895 L255.5,852.7 Q294.2,837.5 332.9,852.7 L332.9,895 Z" fill="#c9d5e7" stroke="#c9d5e7" stroke-width="2.2" stroke-linejoin="round"/>
<path d="M255.5,895 L255.5,852.7 Q294.2,837.5 332.9,852.7 L332.9,895 Z" fill="url(#gl)"/>
<g clip-path="url(#c6)">
<rect x="291.5" y="842.7" width="5.4" height="53.1" fill="#e3e7ee"/>
<rect x="254.7" y="866.9" width="79" height="4.8" fill="#e3e7ee"/>
</g>
<rect x="355.8" y="836.1" width="94.4" height="68.4" fill="#a5a7a9"/>
<rect x="355.3" y="835.6" width="93.8" height="67.7" fill="#dedfe1"/>
<rect x="355.3" y="835.6" width="93.8" height="1" fill="#e4e5e6"/>
<rect x="355.3" y="835.6" width="1" height="67.7" fill="#e4e5e6"/>
<rect x="359.6" y="840.1" width="85.7" height="59" fill="#a3a5a7"/>
<rect x="360.9" y="841.4" width="84.4" height="57.7" fill="#dadce2"/>
<path d="M363.9,895 L363.9,852.7 Q402.6,837.5 441.3,852.7 L441.3,895 Z" fill="#c9d5e7" stroke="#c9d5e7" stroke-width="2.2" stroke-linejoin="round"/>
<path d="M363.9,895 L363.9,852.7 Q402.6,837.5 441.3,852.7 L441.3,895 Z" fill="url(#gl)"/>
<g clip-path="url(#c7)">
<rect x="399.9" y="842.7" width="5.4" height="53.1" fill="#e3e7ee"/>
<rect x="363.1" y="866.9" width="79" height="4.8" fill="#e3e7ee"/>
</g>
<rect x="465.1" y="836.1" width="94.4" height="68.4" fill="#a5a7a9"/>
<rect x="464.6" y="835.6" width="93.8" height="67.7" fill="#dedfe1"/>
<rect x="464.6" y="835.6" width="93.8" height="1" fill="#e4e5e6"/>
<rect x="464.6" y="835.6" width="1" height="67.7" fill="#e4e5e6"/>
<rect x="468.9" y="840.1" width="85.7" height="59" fill="#a3a5a7"/>
<rect x="470.2" y="841.4" width="84.4" height="57.7" fill="#dadce2"/>
<path d="M473.2,895 L473.2,852.7 Q511.9,837.5 550.6,852.7 L550.6,895 Z" fill="#c9d5e7" stroke="#c9d5e7" stroke-width="2.2" stroke-linejoin="round"/>
<path d="M473.2,895 L473.2,852.7 Q511.9,837.5 550.6,852.7 L550.6,895 Z" fill="url(#gl)"/>
<g clip-path="url(#c8)">
<rect x="509.2" y="842.7" width="5.4" height="53.1" fill="#e3e7ee"/>
<rect x="472.4" y="866.9" width="79" height="4.8" fill="#e3e7ee"/>
</g>
<rect x="118.6" y="1002" width="458.4" height="99.4" fill="url(#pg)"/>
<rect x="137.2" y="1017.8" width="94.4" height="68.4" fill="#a5a7a9"/>
<rect x="136.7" y="1017.3" width="93.8" height="67.7" fill="#dedfe1"/>
<rect x="136.7" y="1017.3" width="93.8" height="1" fill="#e4e5e6"/>
<rect x="136.7" y="1017.3" width="1" height="67.7" fill="#e4e5e6"/>
<rect x="141" y="1021.8" width="85.7" height="59" fill="#a3a5a7"/>
<rect x="142.3" y="1023.1" width="84.4" height="57.7" fill="#d3d4d6"/>
<g transform="translate(0,0)">
<path d="M145.7,1075.9 L145.7,1077.09 L148.11,1072.81 L150.53,1068.87 L152.94,1065.24 L155.35,1061.87 L157.77,1058.74 L160.18,1055.83 L162.59,1053.12 L165.01,1050.59 L167.42,1048.23 L169.83,1046.02 L172.25,1043.97 L174.66,1042.05 L177.07,1040.27 L179.49,1038.61 L181.9,1037.08 L184.31,1035.66 L186.73,1034.36 L189.14,1033.16 L191.55,1032.08 L193.97,1031.09 L196.38,1030.2 L198.79,1029.42 L201.21,1028.73 L203.62,1028.13 L206.03,1027.63 L208.45,1027.22 L210.86,1026.91 L213.27,1026.68 L215.69,1026.55 L218.1,1026.5 L222.7,1026.5 L222.7,1075.9 Z" fill="#c9d5e7" stroke="#c9d5e7" stroke-width="2.2" stroke-linejoin="round"/>
<path d="M145.7,1075.9 L145.7,1077.09 L148.11,1072.81 L150.53,1068.87 L152.94,1065.24 L155.35,1061.87 L157.77,1058.74 L160.18,1055.83 L162.59,1053.12 L165.01,1050.59 L167.42,1048.23 L169.83,1046.02 L172.25,1043.97 L174.66,1042.05 L177.07,1040.27 L179.49,1038.61 L181.9,1037.08 L184.31,1035.66 L186.73,1034.36 L189.14,1033.16 L191.55,1032.08 L193.97,1031.09 L196.38,1030.2 L198.79,1029.42 L201.21,1028.73 L203.62,1028.13 L206.03,1027.63 L208.45,1027.22 L210.86,1026.91 L213.27,1026.68 L215.69,1026.55 L218.1,1026.5 L222.7,1026.5 L222.7,1075.9 Z" fill="url(#gl2)"/>
<g clip-path="url(#c9)">
<line x1="156.8" y1="1052.3" x2="212.7" y2="1070.5" stroke="#dfe2e8" stroke-width="4.4"/>
<line x1="189.3" y1="1028.4" x2="217.3" y2="1065" stroke="#dfe2e8" stroke-width="4.3"/>
<circle cx="224.1" cy="1079.2" r="19.3" fill="#d9dbdf"/>
</g>
</g>
<rect x="247.4" y="1017.8" width="94.4" height="68.4" fill="#a5a7a9"/>
<rect x="246.9" y="1017.3" width="93.8" height="67.7" fill="#dedfe1"/>
<rect x="246.9" y="1017.3" width="93.8" height="1" fill="#e4e5e6"/>
<rect x="246.9" y="1017.3" width="1" height="67.7" fill="#e4e5e6"/>
<rect x="251.2" y="1021.8" width="85.7" height="59" fill="#a3a5a7"/>
<rect x="252.5" y="1023.1" width="84.4" height="57.7" fill="#d3d4d6"/>
<g transform="matrix(-1,0,0,1,477.7,0)">
<path d="M145.7,1075.9 L145.7,1077.09 L148.11,1072.81 L150.53,1068.87 L152.94,1065.24 L155.35,1061.87 L157.77,1058.74 L160.18,1055.83 L162.59,1053.12 L165.01,1050.59 L167.42,1048.23 L169.83,1046.02 L172.25,1043.97 L174.66,1042.05 L177.07,1040.27 L179.49,1038.61 L181.9,1037.08 L184.31,1035.66 L186.73,1034.36 L189.14,1033.16 L191.55,1032.08 L193.97,1031.09 L196.38,1030.2 L198.79,1029.42 L201.21,1028.73 L203.62,1028.13 L206.03,1027.63 L208.45,1027.22 L210.86,1026.91 L213.27,1026.68 L215.69,1026.55 L218.1,1026.5 L222.7,1026.5 L222.7,1075.9 Z" fill="#c9d5e7" stroke="#c9d5e7" stroke-width="2.2" stroke-linejoin="round"/>
<path d="M145.7,1075.9 L145.7,1077.09 L148.11,1072.81 L150.53,1068.87 L152.94,1065.24 L155.35,1061.87 L157.77,1058.74 L160.18,1055.83 L162.59,1053.12 L165.01,1050.59 L167.42,1048.23 L169.83,1046.02 L172.25,1043.97 L174.66,1042.05 L177.07,1040.27 L179.49,1038.61 L181.9,1037.08 L184.31,1035.66 L186.73,1034.36 L189.14,1033.16 L191.55,1032.08 L193.97,1031.09 L196.38,1030.2 L198.79,1029.42 L201.21,1028.73 L203.62,1028.13 L206.03,1027.63 L208.45,1027.22 L210.86,1026.91 L213.27,1026.68 L215.69,1026.55 L218.1,1026.5 L222.7,1026.5 L222.7,1075.9 Z" fill="url(#gl2)"/>
<g clip-path="url(#c10)">
<line x1="156.8" y1="1052.3" x2="212.7" y2="1070.5" stroke="#dfe2e8" stroke-width="4.4"/>
<line x1="189.3" y1="1028.4" x2="217.3" y2="1065" stroke="#dfe2e8" stroke-width="4.3"/>
<circle cx="224.1" cy="1079.2" r="19.3" fill="#d9dbdf"/>
</g>
</g>
<rect x="355.8" y="1017.8" width="94.4" height="68.4" fill="#a5a7a9"/>
<rect x="355.3" y="1017.3" width="93.8" height="67.7" fill="#dedfe1"/>
<rect x="355.3" y="1017.3" width="93.8" height="1" fill="#e4e5e6"/>
<rect x="355.3" y="1017.3" width="1" height="67.7" fill="#e4e5e6"/>
<rect x="359.6" y="1021.8" width="85.7" height="59" fill="#a3a5a7"/>
<rect x="360.9" y="1023.1" width="84.4" height="57.7" fill="#d3d4d6"/>
<g transform="translate(218.6,0)">
<path d="M145.7,1075.9 L145.7,1077.09 L148.11,1072.81 L150.53,1068.87 L152.94,1065.24 L155.35,1061.87 L157.77,1058.74 L160.18,1055.83 L162.59,1053.12 L165.01,1050.59 L167.42,1048.23 L169.83,1046.02 L172.25,1043.97 L174.66,1042.05 L177.07,1040.27 L179.49,1038.61 L181.9,1037.08 L184.31,1035.66 L186.73,1034.36 L189.14,1033.16 L191.55,1032.08 L193.97,1031.09 L196.38,1030.2 L198.79,1029.42 L201.21,1028.73 L203.62,1028.13 L206.03,1027.63 L208.45,1027.22 L210.86,1026.91 L213.27,1026.68 L215.69,1026.55 L218.1,1026.5 L222.7,1026.5 L222.7,1075.9 Z" fill="#c9d5e7" stroke="#c9d5e7" stroke-width="2.2" stroke-linejoin="round"/>
<path d="M145.7,1075.9 L145.7,1077.09 L148.11,1072.81 L150.53,1068.87 L152.94,1065.24 L155.35,1061.87 L157.77,1058.74 L160.18,1055.83 L162.59,1053.12 L165.01,1050.59 L167.42,1048.23 L169.83,1046.02 L172.25,1043.97 L174.66,1042.05 L177.07,1040.27 L179.49,1038.61 L181.9,1037.08 L184.31,1035.66 L186.73,1034.36 L189.14,1033.16 L191.55,1032.08 L193.97,1031.09 L196.38,1030.2 L198.79,1029.42 L201.21,1028.73 L203.62,1028.13 L206.03,1027.63 L208.45,1027.22 L210.86,1026.91 L213.27,1026.68 L215.69,1026.55 L218.1,1026.5 L222.7,1026.5 L222.7,1075.9 Z" fill="url(#gl2)"/>
<g clip-path="url(#c11)">
<line x1="156.8" y1="1052.3" x2="212.7" y2="1070.5" stroke="#dfe2e8" stroke-width="4.4"/>
<line x1="189.3" y1="1028.4" x2="217.3" y2="1065" stroke="#dfe2e8" stroke-width="4.3"/>
<circle cx="224.1" cy="1079.2" r="19.3" fill="#d9dbdf"/>
</g>
</g>
<rect x="465.1" y="1017.8" width="94.4" height="68.4" fill="#a5a7a9"/>
<rect x="464.6" y="1017.3" width="93.8" height="67.7" fill="#dedfe1"/>
<rect x="464.6" y="1017.3" width="93.8" height="1" fill="#e4e5e6"/>
<rect x="464.6" y="1017.3" width="1" height="67.7" fill="#e4e5e6"/>
<rect x="468.9" y="1021.8" width="85.7" height="59" fill="#a3a5a7"/>
<rect x="470.2" y="1023.1" width="84.4" height="57.7" fill="#d3d4d6"/>
<g transform="matrix(-1,0,0,1,695.4,0)">
<path d="M145.7,1075.9 L145.7,1077.09 L148.11,1072.81 L150.53,1068.87 L152.94,1065.24 L155.35,1061.87 L157.77,1058.74 L160.18,1055.83 L162.59,1053.12 L165.01,1050.59 L167.42,1048.23 L169.83,1046.02 L172.25,1043.97 L174.66,1042.05 L177.07,1040.27 L179.49,1038.61 L181.9,1037.08 L184.31,1035.66 L186.73,1034.36 L189.14,1033.16 L191.55,1032.08 L193.97,1031.09 L196.38,1030.2 L198.79,1029.42 L201.21,1028.73 L203.62,1028.13 L206.03,1027.63 L208.45,1027.22 L210.86,1026.91 L213.27,1026.68 L215.69,1026.55 L218.1,1026.5 L222.7,1026.5 L222.7,1075.9 Z" fill="#c9d5e7" stroke="#c9d5e7" stroke-width="2.2" stroke-linejoin="round"/>
<path d="M145.7,1075.9 L145.7,1077.09 L148.11,1072.81 L150.53,1068.87 L152.94,1065.24 L155.35,1061.87 L157.77,1058.74 L160.18,1055.83 L162.59,1053.12 L165.01,1050.59 L167.42,1048.23 L169.83,1046.02 L172.25,1043.97 L174.66,1042.05 L177.07,1040.27 L179.49,1038.61 L181.9,1037.08 L184.31,1035.66 L186.73,1034.36 L189.14,1033.16 L191.55,1032.08 L193.97,1031.09 L196.38,1030.2 L198.79,1029.42 L201.21,1028.73 L203.62,1028.13 L206.03,1027.63 L208.45,1027.22 L210.86,1026.91 L213.27,1026.68 L215.69,1026.55 L218.1,1026.5 L222.7,1026.5 L222.7,1075.9 Z" fill="url(#gl2)"/>
<g clip-path="url(#c12)">
<line x1="156.8" y1="1052.3" x2="212.7" y2="1070.5" stroke="#dfe2e8" stroke-width="4.4"/>
<line x1="189.3" y1="1028.4" x2="217.3" y2="1065" stroke="#dfe2e8" stroke-width="4.3"/>
<circle cx="224.1" cy="1079.2" r="19.3" fill="#d9dbdf"/>
</g>
</g>
<rect x="118.6" y="1184.1" width="458.4" height="99.4" fill="url(#pg)"/>
<rect x="137.2" y="1199.9" width="94.4" height="68.4" fill="#a5a7a9"/>
<rect x="136.7" y="1199.4" width="93.8" height="67.7" fill="#dedfe1"/>
<rect x="136.7" y="1199.4" width="93.8" height="1" fill="#e4e5e6"/>
<rect x="136.7" y="1199.4" width="1" height="67.7" fill="#e4e5e6"/>
<rect x="141" y="1203.9" width="85.7" height="59" fill="#a3a5a7"/>
<rect x="142.3" y="1205.2" width="84.4" height="57.7" fill="#dadce2"/>
<path d="M146.2,1208.7 L221.8,1208.7 L221.8,1258.9 L146.2,1258.9 Z" fill="#c9d5e7" stroke="#c9d5e7" stroke-width="2.2" stroke-linejoin="round"/>
<path d="M146.2,1208.7 L221.8,1208.7 L221.8,1258.9 L146.2,1258.9 Z" fill="url(#gl)"/>
<rect x="247.4" y="1199.9" width="94.4" height="68.4" fill="#a5a7a9"/>
<rect x="246.9" y="1199.4" width="93.8" height="67.7" fill="#dedfe1"/>
<rect x="246.9" y="1199.4" width="93.8" height="1" fill="#e4e5e6"/>
<rect x="246.9" y="1199.4" width="1" height="67.7" fill="#e4e5e6"/>
<rect x="251.2" y="1203.9" width="85.7" height="59" fill="#a3a5a7"/>
<rect x="252.5" y="1205.2" width="84.4" height="57.7" fill="#dadce2"/>
<path d="M256.4,1208.7 L332,1208.7 L332,1258.9 L256.4,1258.9 Z" fill="#c9d5e7" stroke="#c9d5e7" stroke-width="2.2" stroke-linejoin="round"/>
<path d="M256.4,1208.7 L332,1208.7 L332,1258.9 L256.4,1258.9 Z" fill="url(#gl)"/>
<rect x="355.8" y="1199.9" width="94.4" height="68.4" fill="#a5a7a9"/>
<rect x="355.3" y="1199.4" width="93.8" height="67.7" fill="#dedfe1"/>
<rect x="355.3" y="1199.4" width="93.8" height="1" fill="#e4e5e6"/>
<rect x="355.3" y="1199.4" width="1" height="67.7" fill="#e4e5e6"/>
<rect x="359.6" y="1203.9" width="85.7" height="59" fill="#a3a5a7"/>
<rect x="360.9" y="1205.2" width="84.4" height="57.7" fill="#dadce2"/>
<path d="M364.8,1208.7 L440.4,1208.7 L440.4,1258.9 L364.8,1258.9 Z" fill="#c9d5e7" stroke="#c9d5e7" stroke-width="2.2" stroke-linejoin="round"/>
<path d="M364.8,1208.7 L440.4,1208.7 L440.4,1258.9 L364.8,1258.9 Z" fill="url(#gl)"/>
<rect x="465.1" y="1199.9" width="94.4" height="68.4" fill="#a5a7a9"/>
<rect x="464.6" y="1199.4" width="93.8" height="67.7" fill="#dedfe1"/>
<rect x="464.6" y="1199.4" width="93.8" height="1" fill="#e4e5e6"/>
<rect x="464.6" y="1199.4" width="1" height="67.7" fill="#e4e5e6"/>
<rect x="468.9" y="1203.9" width="85.7" height="59" fill="#a3a5a7"/>
<rect x="470.2" y="1205.2" width="84.4" height="57.7" fill="#dadce2"/>
<path d="M474.1,1208.7 L549.7,1208.7 L549.7,1258.9 L474.1,1258.9 Z" fill="#c9d5e7" stroke="#c9d5e7" stroke-width="2.2" stroke-linejoin="round"/>
<path d="M474.1,1208.7 L549.7,1208.7 L549.7,1258.9 L474.1,1258.9 Z" fill="url(#gl)"/>
<rect x="762" y="278.1" width="457.8" height="99.8" fill="url(#pg)"/>
<rect x="781.2" y="293.2" width="201.9" height="69.3" fill="#a5a7a9"/>
<rect x="780.7" y="292.7" width="201.3" height="68.6" fill="#dedfe1"/>
<rect x="780.7" y="292.7" width="201.3" height="1" fill="#e4e5e6"/>
<rect x="780.7" y="292.7" width="1" height="68.6" fill="#e4e5e6"/>
<rect x="785.9" y="298.2" width="190.9" height="58.5" fill="#a3a5a7"/>
<rect x="787.2" y="299.5" width="189.6" height="57.2" fill="#d3d4d6"/>
<g>
<path d="M790.6,353 L790.6,353.29 L793.89,348.56 L797.18,344.55 L800.47,341.04 L803.76,337.91 L807.04,335.08 L810.33,332.49 L813.62,330.11 L816.91,327.92 L820.2,325.88 L823.49,323.99 L826.78,322.22 L830.07,320.57 L833.36,319.03 L836.64,317.6 L839.93,316.25 L843.22,315 L846.51,313.82 L849.8,312.73 L853.09,311.71 L856.38,310.76 L859.67,309.88 L862.96,309.07 L866.24,308.32 L869.53,307.63 L872.82,307.01 L876.11,306.44 L879.4,305.93 L882.69,305.48 L885.98,305.08 L889.27,304.74 L892.56,304.45 L895.84,304.22 L899.13,304.03 L902.42,303.9 L905.71,303.83 L909,303.8 L972.5,303.8 L972.5,353 Z" fill="#c9d5e7" stroke="#c9d5e7" stroke-width="2.2" stroke-linejoin="round"/>
<path d="M790.6,353 L790.6,353.29 L793.89,348.56 L797.18,344.55 L800.47,341.04 L803.76,337.91 L807.04,335.08 L810.33,332.49 L813.62,330.11 L816.91,327.92 L820.2,325.88 L823.49,323.99 L826.78,322.22 L830.07,320.57 L833.36,319.03 L836.64,317.6 L839.93,316.25 L843.22,315 L846.51,313.82 L849.8,312.73 L853.09,311.71 L856.38,310.76 L859.67,309.88 L862.96,309.07 L866.24,308.32 L869.53,307.63 L872.82,307.01 L876.11,306.44 L879.4,305.93 L882.69,305.48 L885.98,305.08 L889.27,304.74 L892.56,304.45 L895.84,304.22 L899.13,304.03 L902.42,303.9 L905.71,303.83 L909,303.8 L972.5,303.8 L972.5,353 Z" fill="url(#gl)"/>
<g clip-path="url(#c13)">
<line x1="822.6" y1="319.8" x2="949.6" y2="346.3" stroke="#dfe2e8" stroke-width="5.0"/>
<line x1="925.6" y1="302" x2="959.6" y2="337" stroke="#dfe2e8" stroke-width="4.3"/>
<circle cx="969.1" cy="362.3" r="29" fill="#d9dbdf"/>
</g>
</g>
<rect x="1000.7" y="293.2" width="201.9" height="69.3" fill="#a5a7a9"/>
<rect x="1000.2" y="292.7" width="201.3" height="68.6" fill="#dedfe1"/>
<rect x="1000.2" y="292.7" width="201.3" height="1" fill="#e4e5e6"/>
<rect x="1000.2" y="292.7" width="1" height="68.6" fill="#e4e5e6"/>
<rect x="1005.4" y="298.2" width="190.9" height="58.5" fill="#a3a5a7"/>
<rect x="1006.7" y="299.5" width="189.6" height="57.2" fill="#d3d4d6"/>
<g transform="matrix(-1,0,0,1,1981.8,0)">
<path d="M790.6,353 L790.6,353.29 L793.89,348.56 L797.18,344.55 L800.47,341.04 L803.76,337.91 L807.04,335.08 L810.33,332.49 L813.62,330.11 L816.91,327.92 L820.2,325.88 L823.49,323.99 L826.78,322.22 L830.07,320.57 L833.36,319.03 L836.64,317.6 L839.93,316.25 L843.22,315 L846.51,313.82 L849.8,312.73 L853.09,311.71 L856.38,310.76 L859.67,309.88 L862.96,309.07 L866.24,308.32 L869.53,307.63 L872.82,307.01 L876.11,306.44 L879.4,305.93 L882.69,305.48 L885.98,305.08 L889.27,304.74 L892.56,304.45 L895.84,304.22 L899.13,304.03 L902.42,303.9 L905.71,303.83 L909,303.8 L972.5,303.8 L972.5,353 Z" fill="#c9d5e7" stroke="#c9d5e7" stroke-width="2.2" stroke-linejoin="round"/>
<path d="M790.6,353 L790.6,353.29 L793.89,348.56 L797.18,344.55 L800.47,341.04 L803.76,337.91 L807.04,335.08 L810.33,332.49 L813.62,330.11 L816.91,327.92 L820.2,325.88 L823.49,323.99 L826.78,322.22 L830.07,320.57 L833.36,319.03 L836.64,317.6 L839.93,316.25 L843.22,315 L846.51,313.82 L849.8,312.73 L853.09,311.71 L856.38,310.76 L859.67,309.88 L862.96,309.07 L866.24,308.32 L869.53,307.63 L872.82,307.01 L876.11,306.44 L879.4,305.93 L882.69,305.48 L885.98,305.08 L889.27,304.74 L892.56,304.45 L895.84,304.22 L899.13,304.03 L902.42,303.9 L905.71,303.83 L909,303.8 L972.5,303.8 L972.5,353 Z" fill="url(#gl)"/>
<g clip-path="url(#c14)">
<line x1="822.6" y1="319.8" x2="949.6" y2="346.3" stroke="#dfe2e8" stroke-width="5.0"/>
<line x1="925.6" y1="302" x2="959.6" y2="337" stroke="#dfe2e8" stroke-width="4.3"/>
<circle cx="969.1" cy="362.3" r="29" fill="#d9dbdf"/>
</g>
</g>
<rect x="762.6" y="452.5" width="457.2" height="99" fill="url(#pg)"/>
<rect x="781.2" y="467.6" width="201.9" height="69.3" fill="#a5a7a9"/>
<rect x="780.7" y="467.1" width="201.3" height="68.6" fill="#dedfe1"/>
<rect x="780.7" y="467.1" width="201.3" height="1" fill="#e4e5e6"/>
<rect x="780.7" y="467.1" width="1" height="68.6" fill="#e4e5e6"/>
<rect x="785.9" y="472.6" width="190.9" height="58.5" fill="#a3a5a7"/>
<rect x="787.2" y="473.9" width="189.6" height="57.2" fill="#dadce2"/>
<g>
<path d="M790.6,476.7 L972.5,476.7 L972.5,526.7 L790.6,526.7 Z" fill="#c9d5e7" stroke="#c9d5e7" stroke-width="2.2" stroke-linejoin="round"/>
<path d="M790.6,476.7 L972.5,476.7 L972.5,526.7 L790.6,526.7 Z" fill="url(#gl)"/>
<g clip-path="url(#c15)">
<rect x="822.98" y="473.7" width="5" height="53.8" fill="#e3e7ee"/>
<rect x="860.36" y="473.7" width="5" height="53.8" fill="#e3e7ee"/>
<rect x="897.74" y="473.7" width="5" height="53.8" fill="#e3e7ee"/>
<rect x="935.12" y="473.7" width="5" height="53.8" fill="#e3e7ee"/>
<rect x="789.8" y="499.1" width="183.5" height="4.8" fill="#e3e7ee"/>
</g>
</g>
<rect x="1000.7" y="467.6" width="201.9" height="69.3" fill="#a5a7a9"/>
<rect x="1000.2" y="467.1" width="201.3" height="68.6" fill="#dedfe1"/>
<rect x="1000.2" y="467.1" width="201.3" height="1" fill="#e4e5e6"/>
<rect x="1000.2" y="467.1" width="1" height="68.6" fill="#e4e5e6"/>
<rect x="1005.4" y="472.6" width="190.9" height="58.5" fill="#a3a5a7"/>
<rect x="1006.7" y="473.9" width="189.6" height="57.2" fill="#dadce2"/>
<g transform="matrix(-1,0,0,1,1981.8,0)">
<path d="M790.6,476.7 L972.5,476.7 L972.5,526.7 L790.6,526.7 Z" fill="#c9d5e7" stroke="#c9d5e7" stroke-width="2.2" stroke-linejoin="round"/>
<path d="M790.6,476.7 L972.5,476.7 L972.5,526.7 L790.6,526.7 Z" fill="url(#gl)"/>
<g clip-path="url(#c16)">
<rect x="822.98" y="473.7" width="5" height="53.8" fill="#e3e7ee"/>
<rect x="860.36" y="473.7" width="5" height="53.8" fill="#e3e7ee"/>
<rect x="897.74" y="473.7" width="5" height="53.8" fill="#e3e7ee"/>
<rect x="935.12" y="473.7" width="5" height="53.8" fill="#e3e7ee"/>
<rect x="789.8" y="499.1" width="183.5" height="4.8" fill="#e3e7ee"/>
</g>
</g>
<rect x="762.8" y="637.9" width="457" height="99.5" fill="url(#pg)"/>
<rect x="781.2" y="653" width="201.9" height="69.3" fill="#a5a7a9"/>
<rect x="780.7" y="652.5" width="201.3" height="68.6" fill="#dedfe1"/>
<rect x="780.7" y="652.5" width="201.3" height="1" fill="#e4e5e6"/>
<rect x="780.7" y="652.5" width="1" height="68.6" fill="#e4e5e6"/>
<rect x="785.9" y="658" width="190.9" height="58.5" fill="#a3a5a7"/>
<rect x="787.2" y="659.3" width="189.6" height="57.2" fill="#dadce2"/>
<g>
<path d="M790.6,661.8 L972.5,661.8 L972.5,712.8 L790.6,712.8 Z" fill="#c9d5e7" stroke="#c9d5e7" stroke-width="2.2" stroke-linejoin="round"/>
<path d="M790.6,661.8 L972.5,661.8 L972.5,712.8 L790.6,712.8 Z" fill="url(#gl)"/>
<g clip-path="url(#c17)">
<rect x="879" y="661" width="5.1" height="52.6" fill="#e3e7ee"/>
<path d="M811.2,687.6 L834.8,661.8 L858.4,687.6 L834.8,713.4 Z" fill="none" stroke="#e3e7ee" stroke-width="4.8" stroke-linejoin="miter" stroke-miterlimit="10"/>
<path d="M904.7,687.6 L928.3,661.8 L951.9,687.6 L928.3,713.4 Z" fill="none" stroke="#e3e7ee" stroke-width="4.8" stroke-linejoin="miter" stroke-miterlimit="10"/>
<rect x="789.8" y="685.15" width="23" height="4.9" fill="#e3e7ee"/>
<rect x="856.8" y="685.15" width="49.5" height="4.9" fill="#e3e7ee"/>
<rect x="950.3" y="685.15" width="23" height="4.9" fill="#e3e7ee"/>
</g>
</g>
<rect x="1000.7" y="653" width="201.9" height="69.3" fill="#a5a7a9"/>
<rect x="1000.2" y="652.5" width="201.3" height="68.6" fill="#dedfe1"/>
<rect x="1000.2" y="652.5" width="201.3" height="1" fill="#e4e5e6"/>
<rect x="1000.2" y="652.5" width="1" height="68.6" fill="#e4e5e6"/>
<rect x="1005.4" y="658" width="190.9" height="58.5" fill="#a3a5a7"/>
<rect x="1006.7" y="659.3" width="189.6" height="57.2" fill="#dadce2"/>
<g transform="matrix(-1,0,0,1,1981.8,0)">
<path d="M790.6,661.8 L972.5,661.8 L972.5,712.8 L790.6,712.8 Z" fill="#c9d5e7" stroke="#c9d5e7" stroke-width="2.2" stroke-linejoin="round"/>
<path d="M790.6,661.8 L972.5,661.8 L972.5,712.8 L790.6,712.8 Z" fill="url(#gl)"/>
<g clip-path="url(#c18)">
<rect x="879" y="661" width="5.1" height="52.6" fill="#e3e7ee"/>
<path d="M811.2,687.6 L834.8,661.8 L858.4,687.6 L834.8,713.4 Z" fill="none" stroke="#e3e7ee" stroke-width="4.8" stroke-linejoin="miter" stroke-miterlimit="10"/>
<path d="M904.7,687.6 L928.3,661.8 L951.9,687.6 L928.3,713.4 Z" fill="none" stroke="#e3e7ee" stroke-width="4.8" stroke-linejoin="miter" stroke-miterlimit="10"/>
<rect x="789.8" y="685.15" width="23" height="4.9" fill="#e3e7ee"/>
<rect x="856.8" y="685.15" width="49.5" height="4.9" fill="#e3e7ee"/>
<rect x="950.3" y="685.15" width="23" height="4.9" fill="#e3e7ee"/>
</g>
</g>
<rect x="763.2" y="822.8" width="456.6" height="98.7" fill="url(#pg)"/>
<rect x="781.8" y="837.9" width="201.9" height="69.3" fill="#a5a7a9"/>
<rect x="781.3" y="837.4" width="201.3" height="68.6" fill="#dedfe1"/>
<rect x="781.3" y="837.4" width="201.3" height="1" fill="#e4e5e6"/>
<rect x="781.3" y="837.4" width="1" height="68.6" fill="#e4e5e6"/>
<rect x="786.5" y="842.9" width="190.9" height="58.5" fill="#a3a5a7"/>
<rect x="787.8" y="844.2" width="189.6" height="57.2" fill="#dadce2"/>
<g>
<path d="M790.6,896.7 L790.6,858.2 Q881.55,838.2 972.5,858.2 L972.5,896.7 Z" fill="#c9d5e7" stroke="#c9d5e7" stroke-width="2.2" stroke-linejoin="round"/>
<path d="M790.6,896.7 L790.6,858.2 Q881.55,838.2 972.5,858.2 L972.5,896.7 Z" fill="url(#gl)"/>
<g clip-path="url(#c19)">
<rect x="822.98" y="845" width="5" height="52.5" fill="#e3e7ee"/>
<rect x="860.36" y="845" width="5" height="52.5" fill="#e3e7ee"/>
<rect x="897.74" y="845" width="5" height="52.5" fill="#e3e7ee"/>
<rect x="935.12" y="845" width="5" height="52.5" fill="#e3e7ee"/>
<rect x="789.8" y="870.4" width="183.5" height="4.8" fill="#e3e7ee"/>
</g>
</g>
<rect x="1001.3" y="837.9" width="201.9" height="69.3" fill="#a5a7a9"/>
<rect x="1000.8" y="837.4" width="201.3" height="68.6" fill="#dedfe1"/>
<rect x="1000.8" y="837.4" width="201.3" height="1" fill="#e4e5e6"/>
<rect x="1000.8" y="837.4" width="1" height="68.6" fill="#e4e5e6"/>
<rect x="1006" y="842.9" width="190.9" height="58.5" fill="#a3a5a7"/>
<rect x="1007.3" y="844.2" width="189.6" height="57.2" fill="#dadce2"/>
<g transform="matrix(-1,0,0,1,1981.8,0)">
<path d="M790.6,896.7 L790.6,858.2 Q881.55,838.2 972.5,858.2 L972.5,896.7 Z" fill="#c9d5e7" stroke="#c9d5e7" stroke-width="2.2" stroke-linejoin="round"/>
<path d="M790.6,896.7 L790.6,858.2 Q881.55,838.2 972.5,858.2 L972.5,896.7 Z" fill="url(#gl)"/>
<g clip-path="url(#c20)">
<rect x="822.98" y="845" width="5" height="52.5" fill="#e3e7ee"/>
<rect x="860.36" y="845" width="5" height="52.5" fill="#e3e7ee"/>
<rect x="897.74" y="845" width="5" height="52.5" fill="#e3e7ee"/>
<rect x="935.12" y="845" width="5" height="52.5" fill="#e3e7ee"/>
<rect x="789.8" y="870.4" width="183.5" height="4.8" fill="#e3e7ee"/>
</g>
</g>
<rect x="762.4" y="1001.4" width="457.4" height="99.4" fill="url(#pg)"/>
<rect x="781.2" y="1016.5" width="201.9" height="69.3" fill="#a5a7a9"/>
<rect x="780.7" y="1016" width="201.3" height="68.6" fill="#dedfe1"/>
<rect x="780.7" y="1016" width="201.3" height="1" fill="#e4e5e6"/>
<rect x="780.7" y="1016" width="1" height="68.6" fill="#e4e5e6"/>
<rect x="785.9" y="1021.5" width="190.9" height="58.5" fill="#a3a5a7"/>
<rect x="787.2" y="1022.8" width="189.6" height="57.2" fill="#dadce2"/>
<g>
<path d="M790.6,1075.6 L790.6,1042.4 C796.77,1041.27 815.18,1037.45 827.6,1035.6 C840.02,1033.75 852.6,1032.62 865.1,1031.3 C877.6,1029.98 890.18,1028.58 902.6,1027.7 C915.02,1026.82 927.95,1026.28 939.6,1026 C951.25,1025.72 967.02,1026 972.5,1026 L972.5,1075.6 Z" fill="#c9d5e7" stroke="#c9d5e7" stroke-width="2.2" stroke-linejoin="round"/>
<path d="M790.6,1075.6 L790.6,1042.4 C796.77,1041.27 815.18,1037.45 827.6,1035.6 C840.02,1033.75 852.6,1032.62 865.1,1031.3 C877.6,1029.98 890.18,1028.58 902.6,1027.7 C915.02,1026.82 927.95,1026.28 939.6,1026 C951.25,1025.72 967.02,1026 972.5,1026 L972.5,1075.6 Z" fill="url(#gl)"/>
<g clip-path="url(#c21)">
<rect x="822.98" y="1022.8" width="5" height="53.6" fill="#e3e7ee"/>
<rect x="860.36" y="1022.8" width="5" height="53.6" fill="#e3e7ee"/>
<rect x="897.74" y="1022.8" width="5" height="53.6" fill="#e3e7ee"/>
<rect x="935.12" y="1022.8" width="5" height="53.6" fill="#e3e7ee"/>
<rect x="789.8" y="1048" width="183.5" height="4.8" fill="#e3e7ee"/>
</g>
</g>
<rect x="1000.7" y="1016.5" width="201.9" height="69.3" fill="#a5a7a9"/>
<rect x="1000.2" y="1016" width="201.3" height="68.6" fill="#dedfe1"/>
<rect x="1000.2" y="1016" width="201.3" height="1" fill="#e4e5e6"/>
<rect x="1000.2" y="1016" width="1" height="68.6" fill="#e4e5e6"/>
<rect x="1005.4" y="1021.5" width="190.9" height="58.5" fill="#a3a5a7"/>
<rect x="1006.7" y="1022.8" width="189.6" height="57.2" fill="#dadce2"/>
<g transform="matrix(-1,0,0,1,1981.8,0)">
<path d="M790.6,1075.6 L790.6,1042.4 C796.77,1041.27 815.18,1037.45 827.6,1035.6 C840.02,1033.75 852.6,1032.62 865.1,1031.3 C877.6,1029.98 890.18,1028.58 902.6,1027.7 C915.02,1026.82 927.95,1026.28 939.6,1026 C951.25,1025.72 967.02,1026 972.5,1026 L972.5,1075.6 Z" fill="#c9d5e7" stroke="#c9d5e7" stroke-width="2.2" stroke-linejoin="round"/>
<path d="M790.6,1075.6 L790.6,1042.4 C796.77,1041.27 815.18,1037.45 827.6,1035.6 C840.02,1033.75 852.6,1032.62 865.1,1031.3 C877.6,1029.98 890.18,1028.58 902.6,1027.7 C915.02,1026.82 927.95,1026.28 939.6,1026 C951.25,1025.72 967.02,1026 972.5,1026 L972.5,1075.6 Z" fill="url(#gl)"/>
<g clip-path="url(#c22)">
<rect x="822.98" y="1022.8" width="5" height="53.6" fill="#e3e7ee"/>
<rect x="860.36" y="1022.8" width="5" height="53.6" fill="#e3e7ee"/>
<rect x="897.74" y="1022.8" width="5" height="53.6" fill="#e3e7ee"/>
<rect x="935.12" y="1022.8" width="5" height="53.6" fill="#e3e7ee"/>
<rect x="789.8" y="1048" width="183.5" height="4.8" fill="#e3e7ee"/>
</g>
</g>
<rect x="763.8" y="1182.4" width="456.2" height="99.4" fill="url(#pg)"/>
<rect x="782" y="1197.5" width="201.9" height="69.3" fill="#a5a7a9"/>
<rect x="781.5" y="1197" width="201.3" height="68.6" fill="#dedfe1"/>
<rect x="781.5" y="1197" width="201.3" height="1" fill="#e4e5e6"/>
<rect x="781.5" y="1197" width="1" height="68.6" fill="#e4e5e6"/>
<rect x="786.7" y="1202.5" width="190.9" height="58.5" fill="#a3a5a7"/>
<rect x="788" y="1203.8" width="189.6" height="57.2" fill="#dadce2"/>
<g>
<path d="M790.6,1206.7 L972.5,1206.7 L972.5,1256.7 L790.6,1256.7 Z" fill="#c9d5e7" stroke="#c9d5e7" stroke-width="2.2" stroke-linejoin="round"/>
<path d="M790.6,1206.7 L972.5,1206.7 L972.5,1256.7 L790.6,1256.7 Z" fill="url(#gl)"/>
<g clip-path="url(#c23)">
</g>
</g>
<rect x="1001.5" y="1197.5" width="201.9" height="69.3" fill="#a5a7a9"/>
<rect x="1001" y="1197" width="201.3" height="68.6" fill="#dedfe1"/>
<rect x="1001" y="1197" width="201.3" height="1" fill="#e4e5e6"/>
<rect x="1001" y="1197" width="1" height="68.6" fill="#e4e5e6"/>
<rect x="1006.2" y="1202.5" width="190.9" height="58.5" fill="#a3a5a7"/>
<rect x="1007.5" y="1203.8" width="189.6" height="57.2" fill="#dadce2"/>
<g transform="matrix(-1,0,0,1,1981.8,0)">
<path d="M790.6,1206.7 L972.5,1206.7 L972.5,1256.7 L790.6,1256.7 Z" fill="#c9d5e7" stroke="#c9d5e7" stroke-width="2.2" stroke-linejoin="round"/>
<path d="M790.6,1206.7 L972.5,1206.7 L972.5,1256.7 L790.6,1256.7 Z" fill="url(#gl)"/>
<g clip-path="url(#c24)">
</g>
</g>
<rect x="662" y="278.4" width="2" height="1001" fill="#5890ac"/>
<rect x="24" y="112" width="256" height="7.5" fill="#2b8bcc"/>
<rect x="255.2" y="179.2" width="164.8" height="41.7" fill="none" stroke="#3a88c2" stroke-width="2"/>
<rect x="916.9" y="179.2" width="164.8" height="41.7" fill="none" stroke="#3a88c2" stroke-width="2"/>
<text x="26" y="70.8" font-size="41" fill="#2b8bcc" font-weight="bold" textLength="302.5" lengthAdjust="spacingAndGlyphs">Window Design</text>
<text x="341.6" y="70.8" font-size="41" fill="#1b1b1f" font-weight="bold" textLength="148.5" lengthAdjust="spacingAndGlyphs">Options</text>
<text x="272.3" y="208.5" font-size="24" fill="#2e86c3" font-weight="bold" textLength="132" lengthAdjust="spacingAndGlyphs">Short Panel</text>
<text x="936.6" y="208.5" font-size="24" fill="#2e86c3" font-weight="bold" textLength="125.5" lengthAdjust="spacingAndGlyphs">Long Panel</text>
<text x="302.6" y="420.8" font-size="25" fill="#47494e" font-weight="normal" textLength="85.2" lengthAdjust="spacing" stroke="#47494e" stroke-width="0.7">Sunray</text>
<text x="292.55" y="593.7" font-size="25" fill="#47494e" font-weight="normal" textLength="104.9" lengthAdjust="spacing" stroke="#47494e" stroke-width="0.7">Stockton</text>
<text x="306.4" y="775.8" font-size="25" fill="#47494e" font-weight="normal" textLength="76.4" lengthAdjust="spacing" stroke="#47494e" stroke-width="0.7">Jardin</text>
<text x="294.65" y="956.8" font-size="25" fill="#47494e" font-weight="normal" textLength="100.7" lengthAdjust="spacing" stroke="#47494e" stroke-width="0.7">Cascade</text>
<text x="263.2" y="1135.7" font-size="25" fill="#47494e" font-weight="normal" textLength="162.4" lengthAdjust="spacing" stroke="#47494e" stroke-width="0.7">Wagon Wheel</text>
<text x="289.7" y="1313.2" font-size="25" fill="#47494e" font-weight="normal" textLength="109.8" lengthAdjust="spacing" stroke="#47494e" stroke-width="0.7">No Insert</text>
<text x="948.8" y="420.9" font-size="25" fill="#47494e" font-weight="normal" textLength="85.2" lengthAdjust="spacing" stroke="#47494e" stroke-width="0.7">Sunray</text>
<text x="938.55" y="593.7" font-size="25" fill="#47494e" font-weight="normal" textLength="104.9" lengthAdjust="spacing" stroke="#47494e" stroke-width="0.7">Stockton</text>
<text x="930.15" y="775.8" font-size="25" fill="#47494e" font-weight="normal" textLength="121.5" lengthAdjust="spacing" stroke="#47494e" stroke-width="0.7">Waterford</text>
<text x="940.65" y="956.8" font-size="25" fill="#47494e" font-weight="normal" textLength="100.7" lengthAdjust="spacing" stroke="#47494e" stroke-width="0.7">Cascade</text>
<text x="940.3" y="1135.9" font-size="25" fill="#47494e" font-weight="normal" textLength="102.2" lengthAdjust="spacing" stroke="#47494e" stroke-width="0.7">Moonlite</text>
<text x="936.2" y="1313" font-size="25" fill="#47494e" font-weight="normal" textLength="109.6" lengthAdjust="spacing" stroke="#47494e" stroke-width="0.7">No Insert</text>
</svg>
</body></html>
